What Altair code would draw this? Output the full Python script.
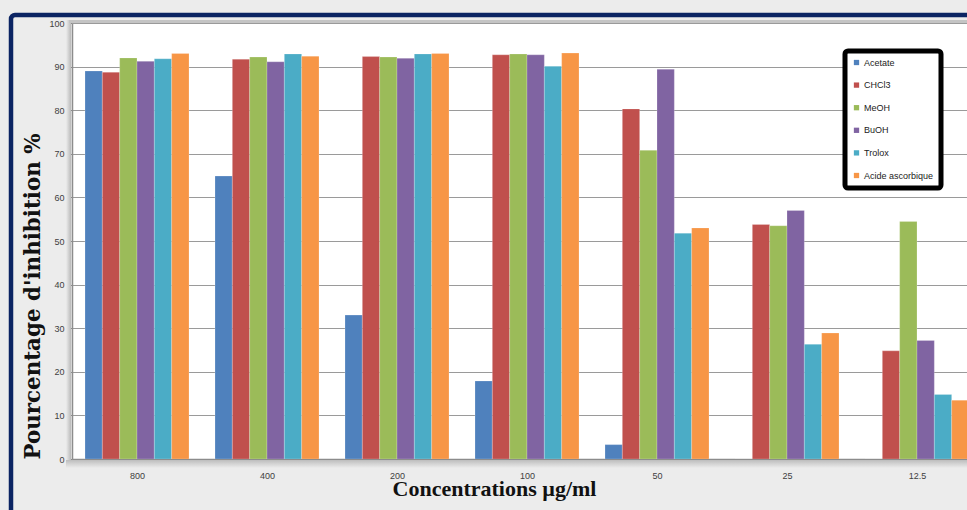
import altair as alt
import pandas as pd

# Concentrations tested (µg/ml) and % inhibition for each extract / standard
concentrations = ["800", "400", "200", "100", "50", "25", "12.5"]
series_names = ["Acetate", "CHCl3", "MeOH", "BuOH", "Trolox", "Acide ascorbique"]
acetate = [89.0, 64.9, 33.0, 17.9, 3.3, 0.0, 0.0]
chcl3 = [88.7, 91.7, 92.3, 92.7, 80.3, 53.8, 24.8]
meoh = [92.0, 92.2, 92.2, 92.9, 70.8, 53.5, 54.5]
buoh = [91.2, 91.1, 91.9, 92.7, 89.4, 57.0, 27.2]
trolox = [91.8, 92.9, 92.9, 90.1, 51.8, 26.3, 14.8]
acide_ascorbique = [93.0, 92.4, 93.0, 93.1, 53.0, 28.9, 13.5]
y_ticks = [0, 10, 20, 30, 40, 50, 60, 70, 80, 90, 100]

palette = ["#4F81BD", "#C0504D", "#9BBB59", "#8064A2", "#4BACC6", "#F79646"]

rows = []
for name, values in zip(series_names,
                        [acetate, chcl3, meoh, buoh, trolox, acide_ascorbique]):
    for conc, v in zip(concentrations, values):
        rows.append({"Concentration": conc, "Série": name, "Inhibition": v})
df = pd.DataFrame(rows)

W, H = 895, 436
small_font = "Liberation Sans Narrow, Liberation Sans, Arial"
serif = "Liberation Serif, Times New Roman, serif"
wide_serif = "DejaVu Serif, Liberation Serif, serif"

bars = alt.Chart(df).mark_bar(clip=True, stroke="#ffffff", strokeOpacity=0.35,
                              strokeWidth=0.6).encode(
    x=alt.X("Concentration:N", sort=concentrations,
            scale=alt.Scale(range=[0, 910], paddingInner=0.2, paddingOuter=0.1),
            axis=alt.Axis(title="Concentrations µg/ml", labelAngle=0,
                          tickBand="extent", tickSize=4, tickColor="#8c8c8c",
                          domainColor="#8c8c8c", domainWidth=1.5,
                          labelFont=small_font, labelFontSize=9,
                          labelColor="#404040", labelPadding=8,
                          titleFont=serif, titleFontSize=22,
                          titleFontWeight="bold", titleColor="#111111",
                          titleX=422, titleY=29, titleBaseline="middle")),
    xOffset=alt.XOffset("Série:N", sort=series_names,
                        scale=alt.Scale(paddingInner=0, paddingOuter=0)),
    y=alt.Y("Inhibition:Q",
            scale=alt.Scale(domain=[0, 100], nice=False),
            axis=alt.Axis(title="Pourcentage d'inhibition %", values=y_ticks,
                          tickSize=4, tickColor="#8c8c8c",
                          domainColor="#8c8c8c", domainWidth=1.5,
                          gridColor="#9a9a9a", gridWidth=1,
                          labelFont=small_font, labelFontSize=9,
                          labelColor="#404040", labelPadding=4,
                          titleFont=wide_serif, titleFontSize=21.4,
                          titleFontWeight="bold", titleColor="#111111",
                          titleAngle=-90, titleX=-39, titleY=273,
                          titleAlign="center", titleBaseline="middle")),
    color=alt.Color("Série:N", sort=series_names,
                    scale=alt.Scale(domain=series_names, range=palette),
                    legend=alt.Legend(title=None, orient="none",
                                      legendX=773, legendY=28,
                                      symbolType="square", symbolSize=28,
                                      symbolStrokeWidth=0,
                                      labelFont=small_font, labelFontSize=9,
                                      labelColor="#222222", labelOffset=3,
                                      rowPadding=12.6, padding=7,
                                      fillColor="#ffffff", strokeColor="#000000")),
)

# soft grey shadow along the left, top and bottom edges of the plotting area
shadow_left = alt.Chart().mark_rect(
    color=alt.Gradient(gradient="linear", x1=0, x2=1, y1=0, y2=0,
                       stops=[alt.GradientStop(color="#ececec", offset=0),
                              alt.GradientStop(color="#b9b9b9", offset=1)])
).encode(x=alt.value(-6), x2=alt.value(-1), y=alt.value(-3), y2=alt.value(H + 8))
shadow_bottom = alt.Chart().mark_rect(
    color=alt.Gradient(gradient="linear", x1=0, x2=0, y1=0, y2=1,
                       stops=[alt.GradientStop(color="#bdbdbd", offset=0),
                              alt.GradientStop(color="#ececec", offset=1)])
).encode(x=alt.value(-6), x2=alt.value(W), y=alt.value(H + 1), y2=alt.value(H + 9))
shadow_top = alt.Chart().mark_rect(color="#c4c4c4").encode(
    x=alt.value(-3), x2=alt.value(W), y=alt.value(-3), y2=alt.value(0))

# dark navy frame around the figure
frame = alt.Chart().mark_rect(
    fillOpacity=0, stroke="#0b2463", strokeWidth=4.5, cornerRadius=4, clip=False
).encode(x=alt.value(-61), x2=alt.value(W + 40), y=alt.value(-8),
         y2=alt.value(H + 80))

chart = alt.layer(shadow_left, shadow_bottom, shadow_top, bars, frame).properties(
    width=W, height=H,
    autosize=alt.AutoSizeParams(type="none"),
    padding={"left": 72, "top": 23, "right": 0, "bottom": 51},
    background="#ececec",
).configure_view(fill="#ffffff", stroke=None
).configure_legend(strokeWidth=5, cornerRadius=3)

chart.save("out.html", embed_options={"renderer": "svg", "actions": False})
